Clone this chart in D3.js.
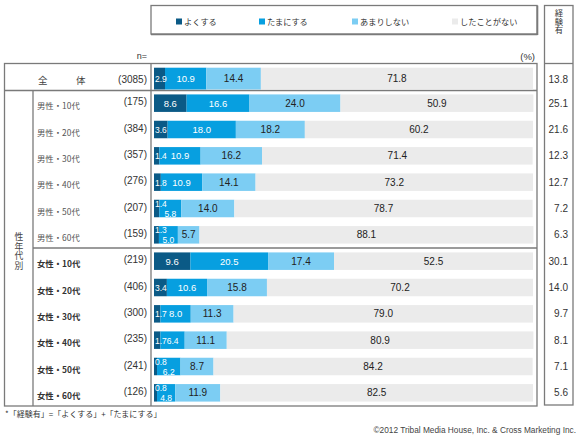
<!DOCTYPE html>
<html><head><meta charset="utf-8">
<script src="https://cdn.jsdelivr.net/npm/d3@7"></script>
<style>
body{margin:0;background:#fff;}
svg{display:block;}
.jp{font-family:"Noto Sans CJK JP","Noto Sans",sans-serif;}
.num{font-family:"Liberation Sans Narrow","Liberation Sans",Arial,sans-serif;}
.vert{writing-mode:vertical-rl;}
</style></head>
<body>
<svg id="c" width="580" height="439"></svg>
<script>
// ---- data ----
const seriesNames = ["よくする", "たまにする", "あまりしない", "したことがない"];
const seriesColors = ["#0b5a86", "#079fe0", "#7ccdf3", "#ebebeb"];
const categories = ["男性・10代","男性・20代","男性・30代","男性・40代","男性・50代","男性・60代",
                    "女性・10代","女性・20代","女性・30代","女性・40代","女性・50代","女性・60代"];
const nValues   = [175, 384, 357, 276, 207, 159, 219, 406, 300, 235, 241, 126];
const yokusuru   = [8.6, 3.6, 1.4, 1.8, 1.4, 1.3, 9.6, 3.4, 1.7, 1.7, 0.8, 0.8];
const tamanisuru = [16.6, 18.0, 10.9, 10.9, 5.8, 5.0, 20.5, 10.6, 8.0, 6.4, 6.2, 4.8];
const amari      = [24.0, 18.2, 16.2, 14.1, 14.0, 5.7, 17.4, 15.8, 11.3, 11.1, 8.7, 11.9];
const nashi      = [50.9, 60.2, 71.4, 73.2, 78.7, 88.1, 52.5, 70.2, 79.0, 80.9, 84.2, 82.5];
const keiken     = [25.1, 21.6, 12.3, 12.7, 7.2, 6.3, 30.1, 14.0, 9.7, 8.1, 7.1, 5.6];
const totalLabel = "全　　　体";
const totalN = 3085;
const totalValues = [2.9, 10.9, 14.4, 71.8];
const totalKeiken = 13.8;

// ---- drawing ----
const svg = d3.select("#c");
const x = d3.scaleLinear().domain([0, 100]).range([154, 533]);
const y = d3.scaleBand().domain(categories).range([90, 406]).paddingInner(0.335).paddingOuter(0.1675);
const yT = d3.scaleBand().domain(["total"]).range([63, 90]).paddingOuter(0.12).align(0.9);

const lineCol = "#7a7a7a";
const g0 = svg.append("g").attr("fill","none").attr("stroke",lineCol).attr("stroke-width",1.3);
g0.append("rect").attr("x",4.5).attr("y",63.5).attr("width",532.5).attr("height",342.5);
g0.append("line").attr("x1",4.5).attr("x2",537).attr("y1",90.5).attr("y2",90.5);
g0.append("line").attr("x1",151).attr("x2",151).attr("y1",63.5).attr("y2",406);
g0.append("line").attr("x1",33).attr("x2",33).attr("y1",90.5).attr("y2",406);
g0.append("line").attr("x1",33).attr("x2",537).attr("y1",248).attr("y2",248);
g0.append("rect").attr("x",544.5).attr("y",5.5).attr("width",28.5).attr("height",399.5);
g0.append("line").attr("x1",544.5).attr("x2",573).attr("y1",63.5).attr("y2",63.5);
g0.append("rect").attr("x",151).attr("y",5.5).attr("width",386).attr("height",28.5);
g0.append("line").attr("x1",151).attr("x2",537.5).attr("y1",34.5).attr("y2",34.5).attr("stroke-width",1.6);
g0.append("line").attr("x1",537.5).attr("x2",537.5).attr("y1",5.5).attr("y2",35).attr("stroke-width",1.6);

// legend
const legX = [176, 259, 352, 452];
const lg = svg.append("g");
seriesNames.forEach((s,i)=>{
  lg.append("rect").attr("x",legX[i]).attr("y",18.5).attr("width",6).attr("height",6).attr("fill",seriesColors[i]);
  lg.append("text").attr("class","jp").attr("x",legX[i]+8).attr("y",24.5).attr("font-size",8.2).attr("fill","#333").text(s);
});

// vertical headers (single text each, vertical writing)
svg.append("text").attr("class","jp vert").attr("x",559).attr("y",9).attr("font-size",8.4)
  .attr("fill","#333").text("経験有");
svg.append("text").attr("class","jp vert").attr("x",19).attr("y",232).attr("font-size",8.8)
  .attr("letter-spacing",1).attr("fill","#444").text("性年代別");

svg.append("text").attr("class","num").attr("x",147).attr("y",59).attr("text-anchor","end").attr("font-size",9).attr("fill","#333").text("n=");
svg.append("text").attr("class","num").attr("x",535).attr("y",60).attr("text-anchor","end").attr("font-size",9.5).attr("fill","#333").text("(%)");

function drawBar(vals, y0, h, keik, g){
  let cum = 0;
  const segs = vals.map((v,i)=>{ const s={i, v, x0:x(cum), x1:x(cum+v)}; cum+=v; return s; });
  g.selectAll("rect.seg").data(segs).enter().append("rect").attr("class","seg")
    .attr("x",d=>d.x0).attr("y",y0).attr("width",d=>d.x1-d.x0).attr("height",h)
    .attr("fill",d=>seriesColors[d.i]);
  const stagger = keik < 7.5;
  const cy = y0 + h/2 + 3.5;
  segs.forEach(d=>{
    const label = d.v.toFixed(1);
    const tw = label.length*4.2;
    let tx = (d.x0+d.x1)/2, anchor = "middle", ty = cy, fs = d.i<2 ? 9.5 : 10;
    const narrow = d.i===0 && (d.x1-d.x0) < tw+2;
    if (narrow){ tx = d.x0+1; anchor = "start"; fs = 8.5; }
    if (d.i===1 && (d.x1-d.x0) < 26) fs = 8.5;
    if (stagger && d.i===0) ty = cy - 5;
    if (stagger && d.i===1) ty = cy + 5;
    g.append("text").attr("class","num").attr("x",tx).attr("y",ty).attr("text-anchor",anchor)
      .attr("font-size",fs).attr("fill",d.i<2?"#fff":"#222").text(label);
  });
}

// total row
const gt = svg.append("g");
const ty0 = yT("total"), th = yT.bandwidth();
drawBar(totalValues, ty0, th, totalKeiken, gt);
gt.append("text").attr("class","jp").attr("x",38).attr("y",ty0+th/2+5).attr("font-size",9.5).attr("fill","#444").text(totalLabel);
gt.append("text").attr("class","num").attr("x",147).attr("y",ty0+th/2+4).attr("text-anchor","end").attr("font-size",10).attr("fill","#333").text("("+totalN+")");
gt.append("text").attr("class","num").attr("x",568).attr("y",ty0+th/2+4).attr("text-anchor","end").attr("font-size",10).attr("fill","#333").text(totalKeiken.toFixed(1));

categories.forEach((c,k)=>{
  const g = svg.append("g");
  const y0 = y(c), h = y.bandwidth();
  drawBar([yokusuru[k], tamanisuru[k], amari[k], nashi[k]], y0, h, keiken[k], g);
  const female = c.startsWith("女");
  g.append("text").attr("class","jp").attr("x",37).attr("y",y0+h/2+6).attr("font-size",8.4)
    .attr("font-weight",female?"bold":"normal").attr("fill",female?"#333":"#555").text(c);
  g.append("text").attr("class","num").attr("x",147).attr("y",y0+h/2+2).attr("text-anchor","end").attr("font-size",10).attr("fill","#333").text("("+nValues[k]+")");
  g.append("text").attr("class","num").attr("x",568).attr("y",y0+h/2+3.5).attr("text-anchor","end").attr("font-size",10).attr("fill","#333").text(keiken[k].toFixed(1));
});

svg.append("text").attr("class","jp").attr("x",5).attr("y",417).attr("font-size",8).attr("fill","#333").text("*「経験有」=「よくする」+「たまにする」");
svg.append("text").attr("x",576).attr("y",433).attr("text-anchor","end").attr("font-family","Liberation Sans, Arial, sans-serif").attr("font-size",8.3).attr("fill","#444").text("©2012 Tribal Media House, Inc. & Cross Marketing Inc.");
</script>
</body></html>
